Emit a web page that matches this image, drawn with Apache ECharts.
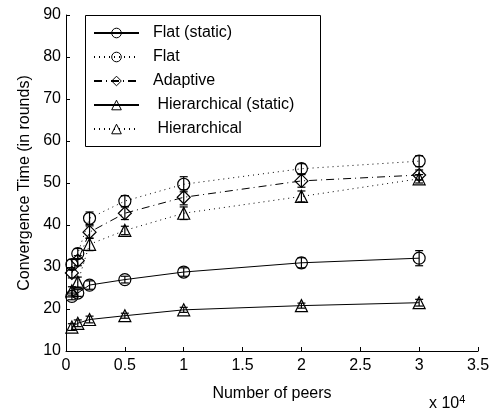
<!DOCTYPE html>
<html>
<head>
<meta charset="utf-8">
<script src="https://cdn.jsdelivr.net/npm/echarts@6/dist/echarts.min.js"></script>
<style>
  html, body { margin: 0; padding: 0; background: #fff; }
  #chart { width: 494px; height: 412px; }
</style>
</head>
<body>
<div id="chart"></div>
<script>
// number of peers (x axis, shown in units of 10^4)
const peers = [500, 1000, 2000, 5000, 10000, 20000, 30000];

// convergence time (rounds) and error bar half-widths
const flatStatic = [23.0, 23.8, 25.7, 27.0, 28.8, 31.0, 32.1];
const flatStaticErr = [0.8, 0.8, 1.0, 0.8, 1.0, 1.2, 1.8];
const flat = [30.6, 33.2, 41.6, 45.7, 49.7, 53.4, 55.2];
const flatErr = [1.2, 1.2, 1.5, 1.3, 1.8, 1.2, 1.3];
const adaptive = [28.6, 31.5, 38.3, 42.8, 46.6, 50.5, 51.9];
const adaptiveErr = [1.2, 1.2, 1.5, 1.5, 1.8, 1.5, 1.2];
const hierStatic = [15.7, 16.6, 17.5, 18.4, 19.8, 20.8, 21.5];
const hierStaticErr = [0.8, 0.8, 0.8, 0.6, 0.6, 0.6, 0.8];
const hier = [24.3, 26.4, 35.4, 38.7, 42.8, 46.8, 51.0];
const hierErr = [1.0, 1.2, 1.5, 1.0, 1.5, 1.3, 1.0];

const names = ['Flat (static)', 'Flat', 'Adaptive', ' Hierarchical (static)', ' Hierarchical'];

const font = 'Liberation Sans, Arial, Helvetica, sans-serif';

function lineSeries(name, values, symbol, size, type) {
  return {
    name: name,
    type: 'line',
    data: peers.map((p, i) => [p, values[i]]),
    symbol: symbol,
    symbolSize: size,
    showAllSymbol: true,
    z: 3,
    lineStyle: { color: '#000', width: 1, type: type },
    itemStyle: { color: 'transparent', borderColor: '#000', borderWidth: 1.2 }
  };
}

function errorSeries(values, errs) {
  return {
    type: 'custom',
    z: 2,
    silent: true,
    data: peers.map((p, i) => [p, values[i] - errs[i], values[i] + errs[i]]),
    renderItem: function (params, api) {
      const lo = api.coord([api.value(0), api.value(1)]);
      const hi = api.coord([api.value(0), api.value(2)]);
      const w = 4;
      const st = { stroke: '#000', lineWidth: 1.2 };
      return {
        type: 'group',
        children: [
          { type: 'line', shape: { x1: lo[0], y1: lo[1], x2: hi[0], y2: hi[1] }, style: st },
          { type: 'line', shape: { x1: lo[0] - w, y1: lo[1], x2: lo[0] + w, y2: lo[1] }, style: st },
          { type: 'line', shape: { x1: hi[0] - w, y1: hi[1], x2: hi[0] + w, y2: hi[1] }, style: st }
        ]
      };
    }
  };
}

const chart = echarts.init(document.getElementById('chart'));
chart.setOption({
  animation: false,
  backgroundColor: '#fff',
  textStyle: { fontFamily: font },
  grid: { left: 66, right: 16, top: 15, bottom: 61, containLabel: false },
  xAxis: {
    type: 'value',
    min: 0,
    max: 35000,
    interval: 5000,
    name: 'Number of peers',
    nameLocation: 'middle',
    nameGap: 35,
    nameTextStyle: { color: '#000', fontSize: 16, fontFamily: font },
    axisLine: { lineStyle: { color: '#000', width: 1 } },
    axisTick: { inside: true, length: 4, lineStyle: { color: '#000' } },
    axisLabel: { color: '#000', fontSize: 16, margin: 7, fontFamily: font,
      formatter: v => String(v / 10000) },
    splitLine: { show: false }
  },
  yAxis: {
    type: 'value',
    min: 10,
    max: 90,
    interval: 10,
    name: 'Convergence Time (in rounds)',
    nameLocation: 'middle',
    nameGap: 33,
    nameTextStyle: { color: '#000', fontSize: 16, fontFamily: font },
    axisLine: { show: true, lineStyle: { color: '#000', width: 1 } },
    axisTick: { show: true, inside: true, length: 4, lineStyle: { color: '#000' } },
    axisLabel: { color: '#000', fontSize: 16, margin: 5, fontFamily: font },
    splitLine: { show: false }
  },
  legend: {
    data: names,
    orient: 'vertical',
    left: 93,
    top: 25,
    padding: 0,
    itemWidth: 45,
    itemHeight: 12,
    itemGap: 8,
    itemStyle: { color: 'transparent', borderColor: '#000', borderWidth: 1 },
    textStyle: { color: '#000', fontSize: 16, fontFamily: font, padding: [0, 0, 0, 9] },
    selectedMode: false
  },
  graphic: [
    { type: 'rect', left: 83, top: 13, shape: { width: 235, height: 131 },
      style: { fill: 'none', stroke: '#000', lineWidth: 1 }, z: 10 },
    { type: 'text', left: 429, top: 394, z: 10,
      style: { text: 'x 10{s|4}', fill: '#000', font: '16px ' + font,
        rich: { s: { fontSize: 11, verticalAlign: 'top', padding: [0, 0, 8, 0], fill: '#000' } } } }
  ],
  series: [
    lineSeries(names[0], flatStatic, 'circle', 12, 'solid'),
    lineSeries(names[1], flat, 'circle', 12, [1, 4]),
    lineSeries(names[2], adaptive, 'diamond', 13, [8, 4, 1, 4]),
    lineSeries(names[3], hierStatic, 'triangle', 12, 'solid'),
    lineSeries(names[4], hier, 'triangle', 12, [1, 4]),
    errorSeries(flatStatic, flatStaticErr),
    errorSeries(flat, flatErr),
    errorSeries(adaptive, adaptiveErr),
    errorSeries(hierStatic, hierStaticErr),
    errorSeries(hier, hierErr)
  ]
});
</script>
</body>
</html>
